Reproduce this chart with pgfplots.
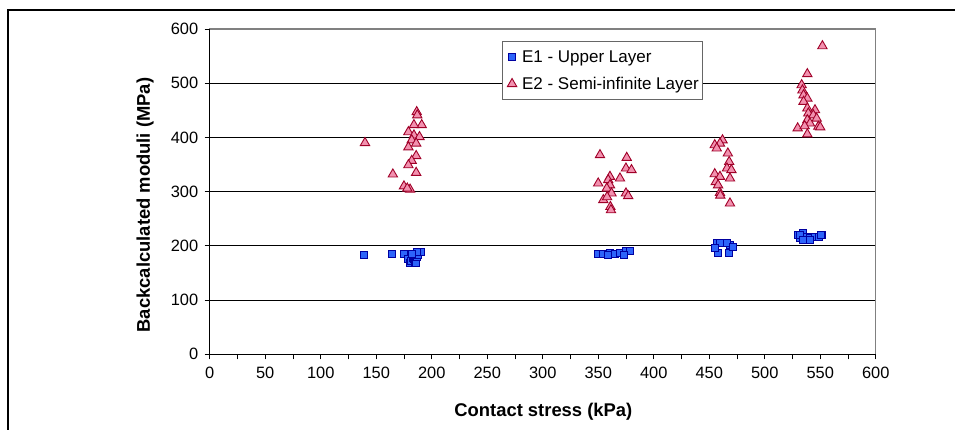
\documentclass[border=0pt]{standalone}
\usepackage{fontspec}
\setmainfont{Liberation Sans}
\usepackage{pgfplots}
\pgfplotsset{compat=1.18}

\definecolor{sqfill}{RGB}{45,100,250}
\definecolor{sqdraw}{RGB}{0,0,160}
\definecolor{trifill}{RGB}{242,145,175}
\definecolor{tridraw}{RGB}{160,0,40}

\begin{document}
\begin{tikzpicture}[x=1pt,y=1pt]
\useasboundingbox (0,0) rectangle (955,430);
\draw[line width=2pt] (8.3,-5) -- (8.3,419.5) -- (960,419.5);
\begin{axis}[
    at={(209.7pt,75.7pt)}, anchor=south west,
    scale only axis,
    width=666pt, height=325.3pt,
    xmin=0, xmax=600, ymin=0, ymax=600,
    xtick={0,50,...,600}, minor xtick={25,75,...,575},
    ytick={0,100,...,600},
    tick align=outside, xtick pos=bottom, ytick pos=left,
    major tick length=5pt, minor tick length=5pt,
    tick style={black, line width=0.8pt},
    axis line style={draw=gray, line width=1.2pt},
    ymajorgrids, grid style={black, line width=0.9pt},
    /pgf/number format/assume math mode=true,
    ticklabel style={font=\fontsize{16.4}{18}\selectfont},
    xticklabel style={yshift=-4pt},
    yticklabel style={xshift=-3pt},
    xlabel={Contact stress (kPa)},
    ylabel={Backcalculated moduli (MPa)},
    label style={font=\bfseries\fontsize{18.4}{20}\selectfont},
    xlabel style={at={(axis description cs:0.501,-0.1765)}, anchor=center},
    ylabel style={at={(axis description cs:-0.097,0.459)}, anchor=center},
    legend style={at={(axis description cs:0.4384,0.962)}, anchor=north west,
        draw=gray!80!black, line width=0.8pt, fill=white,
        font=\fontsize{17}{19}\selectfont,
        inner xsep=2pt, inner ysep=7pt, row sep=9pt,
        column 2/.style={anchor=west, text width=163pt},
        cells={anchor=west}},
    legend image code/.code={
        \path[draw=none] (-8pt,0pt) -- (8pt,0pt);
        \draw plot coordinates {(0pt,0pt)};},
    clip=false,
]
\addplot[only marks, mark=square*, mark size=3.5pt,
    mark options={fill=sqfill, draw=sqdraw, line width=0.9pt}]
coordinates {
(139,183) (164,185) (175,185) (179,176) (180,168) (181,172) (183,178)
(184,175) (185,170) (186,169) (187,180) (188,184) (190,189) (187,188) (182,186)
(349.5,186) (354.6,186) (360.6,187) (365,186) (369.6,187) (375,191)
(378.6,191) (359,184) (373,184)
(456.8,206) (459.7,204.7) (468.7,201.6) (466,204.7) (458,187) (468,187)
(455,195.5) (471.7,198.5)
(530,220) (534.7,223) (537.8,217) (540.8,214) (545.3,216) (549,216)
(552,220) (532,214) (531.8,220) (551,220) (534.7,211) (541,210)
};
\addlegendentry{E1 - Upper Layer}
\addplot[only marks, mark=triangle*, mark size=5.4pt,
    mark options={fill=trifill, draw=tridraw, line width=0.9pt}]
coordinates {
(139.9,390) (186.5,447) (187,441) (191,423) (184,423) (179,410) (184,404)
(189,401) (182,395) (186,389) (179,382) (186,366) (182,357) (179,349)
(186,335) (165,332) (175,310) (180.5,304) (178,306)
(351.6,367.6) (375.7,362.6) (375,343) (380,340) (360.6,327.6) (359,321.5)
(369.6,324.6) (350,315.4) (360.6,312) (357.7,306) (375,297) (377,292)
(362,297) (354.6,284.6) (358,290) (361,272) (361.5,266)
(462,395) (459.7,389) (455,386) (456.8,380) (466.8,370.7) (468,355)
(466,343) (470,340) (468.7,324.6) (455,332.5) (459.7,327.6) (456,318)
(458,312) (459.7,298) (460,293) (468.7,278.5)
(552,568.6) (538.4,517) (533.3,496.7) (534,487) (535,478) (538.4,472)
(535,466) (538.4,453.7) (545.3,450.5) (539.3,444.5) (543.8,441)
(546.8,435) (538.4,432) (540.8,426) (548.3,420) (529.7,417) (536,421)
(550,419) (538.4,406)
};
\addlegendentry{E2 - Semi-infinite Layer}
\draw[black, line width=1.2pt] (axis cs:0,600) -- (axis cs:0,0) -- (axis cs:600,0);
\end{axis}
\end{tikzpicture}
\end{document}
